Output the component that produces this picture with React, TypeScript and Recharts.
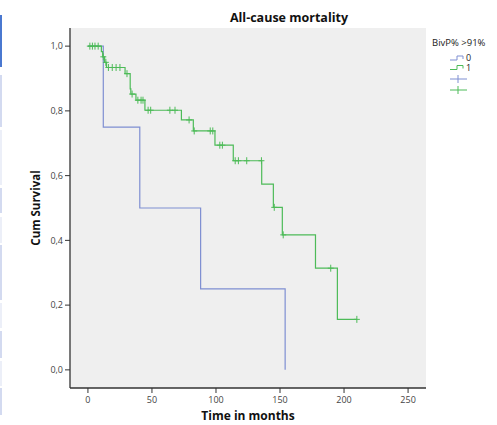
import React from 'react';
import { LineChart, Line, XAxis, YAxis, CartesianGrid, Customized } from 'recharts';

// Group 0 (BivP% <= 91%) – Kaplan-Meier steps
const blueTimes = [0, 12, 40.5, 88, 154];
const blueSurv = [1, 0.75, 0.5, 0.25, 0];

// Group 1 (BivP% > 91%) – event steps
const greenTimes = [0, 10.5, 11.5, 13, 14.5, 29, 33, 33.5, 37.5, 44.5, 73, 82.3, 99.2, 113.5, 135.7, 144.8, 151.8, 177.7, 194.8];
const greenSurv = [1, 0.983, 0.967, 0.95, 0.934, 0.915, 0.868, 0.852, 0.833, 0.802, 0.772, 0.738, 0.694, 0.646, 0.574, 0.502, 0.417, 0.314, 0.156];

// Group 1 – censored observations
const greenCensorTimes = [1.5, 3.5, 5.5, 8, 12, 14, 16, 19, 22, 25, 30.5, 34.5, 39, 41.5, 43, 47, 49, 64, 68, 79, 83, 95.5, 97.5, 103, 105, 115, 117.5, 124, 135.5, 145.5, 152.5, 189.6, 210];
const greenCensorSurv = [1, 1, 1, 1, 0.967, 0.95, 0.934, 0.934, 0.934, 0.934, 0.915, 0.852, 0.833, 0.833, 0.833, 0.802, 0.802, 0.802, 0.802, 0.772, 0.738, 0.738, 0.738, 0.694, 0.694, 0.646, 0.646, 0.646, 0.646, 0.502, 0.417, 0.314, 0.156];

const xTicks = [0, 50, 100, 150, 200, 250];
const yTicks = [0, 0.2, 0.4, 0.6, 0.8, 1.0];
const legendTitle = 'BivP% >91%';
const groupLabels = ['0', '1'];

const BLUE = '#7f8fd2';
const GREEN = '#4dbb58';

const blueData = blueTimes.map((t, i) => ({ t, s: blueSurv[i], c: false }));
const greenData = [
  ...greenTimes.map((t, i) => ({ t, s: greenSurv[i], c: false })),
  ...greenCensorTimes.map((t, i) => ({ t, s: greenCensorSurv[i], c: true })),
].sort((a, b) => a.t - b.t || (a.c ? 1 : -1));

const FONT = '"Open Sans", "DejaVu Sans", sans-serif';

const censorDot = (color: string) => (p: any) => {
  if (!p.payload || !p.payload.c) return <g key={`d${p.index}`} />;
  return (
    <path
      key={`d${p.index}`}
      d={`M${p.cx - 3},${p.cy}H${p.cx + 3}M${p.cx},${p.cy - 3.5}V${p.cy + 3.5}`}
      stroke={color}
      strokeWidth={1}
      fill="none"
    />
  );
};

const Decorations = () => (
  <g fontFamily={FONT}>
    <text x={289} y={22} textAnchor="middle" fontSize={12.5} fontWeight="bold" fill="#111">All-cause mortality</text>
    <text x={248} y={420} textAnchor="middle" fontSize={12} fontWeight="bold" fill="#111">Time in months</text>
    <text x={40} y={208} textAnchor="middle" fontSize={11.5} fontWeight="bold" fill="#111" transform="rotate(-90 40 208)">Cum Survival</text>
    <text x={432} y={46} fontSize={9.5} fill="#222">{legendTitle}</text>
    <path d="M450,60H457V56H463V59" stroke={BLUE} fill="none" strokeWidth={1} />
    <text x={466} y={60.5} fontSize={9} fill="#222">{groupLabels[0]}</text>
    <path d="M450,69.5H457V65.5H463V68.5" stroke={GREEN} fill="none" strokeWidth={1} />
    <text x={466} y={71} fontSize={9} fill="#222">{groupLabels[1]}</text>
    <path d="M450,79H467M458,75V83" stroke={BLUE} fill="none" strokeWidth={1} />
    <path d="M450,90H467M458,86V94" stroke={GREEN} fill="none" strokeWidth={1} />
  </g>
);

const strips = [
  { top: 15, h: 52, c: '#4a78d0' },
  { top: 75, h: 52, c: '#d3daf0' },
  { top: 130, h: 55, c: '#eceff8' },
  { top: 188, h: 25, c: '#d3daf0' },
  { top: 217, h: 26, c: '#eceff8' },
  { top: 245, h: 55, c: '#d3daf0' },
  { top: 303, h: 25, c: '#eceff8' },
  { top: 331, h: 27, c: '#d3daf0' },
  { top: 361, h: 25, c: '#eceff8' },
  { top: 388, h: 27, c: '#d3daf0' },
];

export default function App() {
  return (
    <div style={{ position: 'absolute', left: 0, top: 0, width: 497, height: 425, background: '#fff', overflow: 'hidden' }}>
      {strips.map((s, i) => (
        <div key={i} style={{ position: 'absolute', left: 0, top: s.top, width: 2, height: s.h, background: s.c }} />
      ))}
      <LineChart width={497} height={425} margin={{ top: 28, right: 71, bottom: 0, left: 0 }}>
        <CartesianGrid fill="#efefef" horizontal={false} vertical={false} />
        <XAxis
          xAxisId="b"
          dataKey="t"
          type="number"
          domain={[-14, 264]}
          allowDataOverflow
          ticks={xTicks}
          height={37}
          tickSize={5}
          tickMargin={4}
          axisLine={{ stroke: '#333', strokeWidth: 1.3 }}
          tickLine={{ stroke: '#333' }}
          tick={{ fontSize: 9, fill: '#444', fontFamily: FONT }}
        />
        <XAxis xAxisId="top" orientation="top" type="number" domain={[-14, 264]} height={0} tick={false} tickLine={false} axisLine={{ stroke: '#999' }} />
        <YAxis
          yAxisId="l"
          type="number"
          domain={[-0.056, 1.056]}
          allowDataOverflow
          ticks={yTicks}
          width={70}
          tickSize={5}
          tickMargin={2}
          tickFormatter={(v: number) => v.toFixed(1).replace('.', ',')}
          axisLine={{ stroke: '#333', strokeWidth: 1.3 }}
          tickLine={{ stroke: '#333' }}
          tick={{ fontSize: 9, fill: '#444', fontFamily: FONT }}
        />
        <YAxis yAxisId="r" orientation="right" type="number" domain={[-0.056, 1.056]} width={0} tick={false} tickLine={false} axisLine={{ stroke: '#999' }} />
        <Line
          xAxisId="b"
          yAxisId="l"
          data={blueData}
          dataKey="s"
          type="stepAfter"
          stroke={BLUE}
          strokeWidth={1.2}
          dot={false}
          activeDot={false}
          isAnimationActive={false}
        />
        <Line
          xAxisId="b"
          yAxisId="l"
          data={greenData}
          dataKey="s"
          type="stepAfter"
          stroke={GREEN}
          strokeWidth={1.2}
          dot={censorDot(GREEN)}
          activeDot={false}
          isAnimationActive={false}
        />
        <Customized component={Decorations} />
      </LineChart>
    </div>
  );
}
